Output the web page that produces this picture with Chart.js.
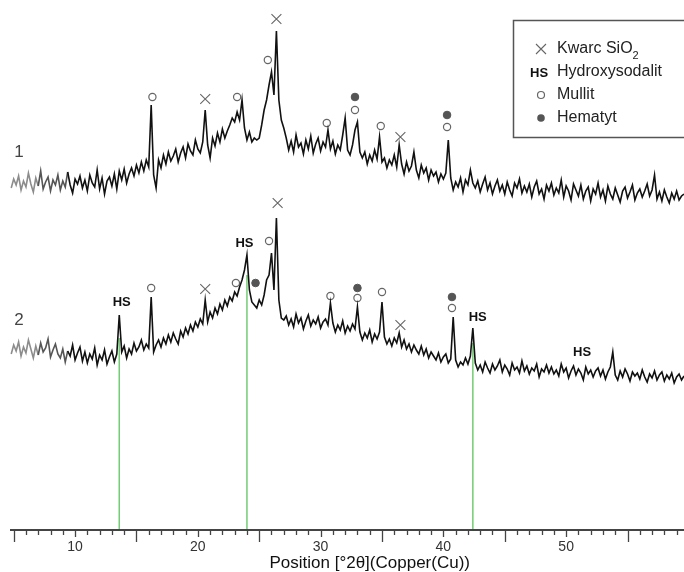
<!DOCTYPE html>
<html><head><meta charset="utf-8">
<script src="https://cdn.jsdelivr.net/npm/chart.js@4.4.1/dist/chart.umd.min.js"></script>
<style>html,body{margin:0;padding:0;background:#fff}#wrap{width:684px;height:572px;position:relative}</style>
</head><body><div id="wrap"><canvas id="c" width="684" height="572"></canvas></div>
<script>
// 2θ scan positions (degrees)
const twoTheta = [
4.8,5,5.2,5.4,5.6,5.8,6,6.2,6.4,6.6,
6.8,7,7.2,7.4,7.6,7.8,8,8.2,8.4,8.6,
8.8,9,9.2,9.4,9.6,9.8,10,10.2,10.4,10.6,
10.8,11,11.2,11.4,11.6,11.8,12,12.2,12.4,12.6,
12.8,13,13.2,13.4,13.6,13.8,14,14.2,14.4,14.6,
14.8,15,15.2,15.4,15.6,15.8,16,16.2,16.4,16.6,
16.8,17,17.2,17.4,17.6,17.8,18,18.2,18.4,18.6,
18.8,19,19.2,19.4,19.6,19.8,20,20.2,20.4,20.6,
20.8,21,21.2,21.4,21.6,21.8,22,22.2,22.4,22.6,
22.8,23,23.2,23.4,23.6,23.8,24,24.2,24.4,24.6,
24.8,25,25.2,25.4,25.6,25.8,26,26.2,26.4,26.6,
26.8,27,27.2,27.4,27.6,27.8,28,28.2,28.4,28.6,
28.8,29,29.2,29.4,29.6,29.8,30,30.2,30.4,30.6,
30.8,31,31.2,31.4,31.6,31.8,32,32.2,32.4,32.6,
32.8,33,33.2,33.4,33.6,33.8,34,34.2,34.4,34.6,
34.8,35,35.2,35.4,35.6,35.8,36,36.2,36.4,36.6,
36.8,37,37.2,37.4,37.6,37.8,38,38.2,38.4,38.6,
38.8,39,39.2,39.4,39.6,39.8,40,40.2,40.4,40.6,
40.8,41,41.2,41.4,41.6,41.8,42,42.2,42.4,42.6,
42.8,43,43.2,43.4,43.6,43.8,44,44.2,44.4,44.6,
44.8,45,45.2,45.4,45.6,45.8,46,46.2,46.4,46.6,
46.8,47,47.2,47.4,47.6,47.8,48,48.2,48.4,48.6,
48.8,49,49.2,49.4,49.6,49.8,50,50.2,50.4,50.6,
50.8,51,51.2,51.4,51.6,51.8,52,52.2,52.4,52.6,
52.8,53,53.2,53.4,53.6,53.8,54,54.2,54.4,54.6,
54.8,55,55.2,55.4,55.6,55.8,56,56.2,56.4,56.6,
56.8,57,57.2,57.4,57.6,57.8,58,58.2,58.4,58.6,
58.8,59,59.2,59.4,59.6
];

// Sample 1 intensity (arbitrary units, offset trace)
const pattern1 = [
342,351,345,354,340,349,343,357,346,338,
352,344,359,341,348,353,339,350,345,355,
340,349,343,358,345,337,351,346,354,342,
350,339,355,347,343,360,341,352,336,349,
353,344,356,341,359,350,361,347,356,362,
354,365,357,368,359,370,363,425,355,342,
370,362,375,366,378,369,374,381,368,377,
383,372,386,379,375,390,381,377,388,420,
385,372,392,384,397,388,401,392,399,405,
412,408,418,410,430,402,390,398,388,392,
390,392,405,420,430,445,458,435,499,430,
410,402,392,380,389,378,395,383,387,376,
390,381,394,377,386,392,379,388,383,400,
381,389,376,385,380,395,412,380,375,385,
400,408,378,372,378,366,375,369,380,371,
393,368,372,362,370,365,375,363,385,366,
356,368,359,364,378,360,352,365,357,362,
350,360,354,358,348,356,351,357,390,352,
340,348,343,352,338,350,345,360,347,342,
349,338,346,353,340,347,336,344,350,339,
345,336,348,340,334,347,342,351,337,344,
338,346,333,343,349,336,341,331,345,339,
347,335,342,337,350,333,344,339,330,346,
340,334,345,331,339,343,329,341,336,347,
333,340,329,344,336,331,342,335,328,339,
343,332,338,345,330,337,341,333,339,346,
334,340,355,331,338,329,340,333,327,337,
331,339,330,334,336
];

// Sample 2 intensity (arbitrary units, offset trace)
const pattern2 = [
176,185,179,188,174,183,177,190,181,172,
184,175,187,178,182,191,173,180,186,176,
172,181,168,179,174,185,170,177,183,169,
178,167,176,171,182,165,175,170,180,166,
173,179,168,176,215,178,184,172,181,176,
187,179,183,190,180,186,182,233,178,185,
190,183,192,186,195,188,197,191,186,199,
193,202,196,205,199,208,203,211,206,230,
208,218,212,222,216,226,220,230,224,233,
229,238,234,243,250,260,275,240,228,225,
222,230,225,235,250,255,277,240,312,230,
212,210,214,205,211,203,216,207,212,201,
209,215,204,210,206,213,202,208,211,205,
227,207,198,205,200,209,197,204,199,206,
201,223,198,190,197,192,200,188,196,191,
198,228,193,186,191,184,192,187,197,183,
190,181,186,178,185,180,176,184,175,181,
172,178,174,170,177,168,173,176,167,171,
213,170,163,168,165,172,166,174,202,167,
160,165,158,168,162,157,166,160,164,170,
158,165,161,155,167,160,163,157,169,159,
164,156,162,159,166,153,161,158,165,157,
163,156,160,154,166,158,162,152,159,164,
155,161,157,150,163,156,160,153,159,162,
154,160,151,158,163,178,155,150,159,153,
161,156,149,158,154,157,151,160,153,148,
156,152,159,150,155,158,149,155,151,157,
147,153,156,150,154
];

// Hydroxysodalite reference lines (2θ) and their heights
const hsLinePos = [13.6, 24.0, 42.4];
const hsLineTop = [192, 255, 187];

// Phase markers: [2θ, height]
const quartzMarks = [[20.6,431],[26.4,511],[36.5,393],[20.6,241],[26.5,327],[36.5,205]];
const mullitMarks = [[16.3,433],[23.2,433],[25.7,470],[30.5,407],[32.8,420],[34.9,404],[40.3,403],
                     [16.2,242],[23.1,247],[25.8,289],[30.8,234],[33.0,232],[35.0,238],[40.7,222]];
const hematytMarks = [[32.8,433],[40.3,415],[24.7,247],[33.0,242],[40.7,233]];
const hsMarks = [[13.8,228],[23.8,287],[42.8,213],[51.3,178]];

const xTickLabels = [10, 20, 30, 40, 50];
const axisTitle = 'Position [°2θ](Copper(Cu))';
const sampleLabels = [['1', 378], ['2', 210]];
const FONT = '"Liberation Sans", Arial, Helvetica, sans-serif';

const toPts = (xs, ys) => xs.map((x, i) => ({x, y: ys[i]}));
const markPts = arr => arr.map(p => ({x: p[0], y: p[1]}));

const traceSeg = {borderColor: c => c.p1.parsed.x < 7.2 ? '#8c8c8c' : (c.p1.parsed.x < 9.5 ? '#555' : '#111')};

const datasets = [
  {label:'1', data: toPts(twoTheta, pattern1), borderColor:'#111', borderWidth:1.6, pointRadius:0, tension:0, segment: traceSeg},
  {label:'2', data: toPts(twoTheta, pattern2), borderColor:'#111', borderWidth:1.6, pointRadius:0, tension:0, segment: traceSeg},
];
hsLinePos.forEach((x, i) => datasets.push({
  label:'HS line', data:[{x, y:0},{x, y:hsLineTop[i]}], borderColor:'#72cc72', borderWidth:1.5, pointRadius:0
}));
datasets.push({type:'scatter', label:'Kwarc', data: markPts(quartzMarks), pointStyle:'crossRot', pointRadius:7, borderColor:'#666', borderWidth:1.1, showLine:false});
datasets.push({type:'scatter', label:'Mullit', data: markPts(mullitMarks), pointStyle:'circle', pointRadius:3.6, backgroundColor:'#fff', borderColor:'#666', borderWidth:1.2, showLine:false});
datasets.push({type:'scatter', label:'Hematyt', data: markPts(hematytMarks), pointStyle:'circle', pointRadius:3.8, backgroundColor:'#555', borderColor:'#555', borderWidth:1, showLine:false});

const decor = {
  id:'decor',
  afterDraw(chart){
    const ctx = chart.ctx, xs = chart.scales.x, ys = chart.scales.y, ca = chart.chartArea, b = ca.bottom;
    ctx.save();
    // axis line
    ctx.strokeStyle = '#444'; ctx.lineWidth = 2.2;
    ctx.beginPath(); ctx.moveTo(ca.left, b); ctx.lineTo(ca.right, b); ctx.stroke();
    // tick marks
    ctx.lineWidth = 1.3;
    for (let v = Math.ceil(xs.min); v <= Math.floor(xs.max); v++) {
      const px = Math.round(xs.getPixelForValue(v)) + 0.5;
      const len = v % 10 === 0 ? 7 : (v % 5 === 0 ? 12 : 5);
      ctx.beginPath(); ctx.moveTo(px, b); ctx.lineTo(px, b + len); ctx.stroke();
    }
    // tick labels
    ctx.fillStyle = '#333'; ctx.font = '14px ' + FONT; ctx.textAlign = 'center'; ctx.textBaseline = 'middle';
    xTickLabels.forEach(v => ctx.fillText(String(v), xs.getPixelForValue(v), b + 17));
    // axis title
    ctx.fillStyle = '#111'; ctx.font = '17px ' + FONT; ctx.textBaseline = 'alphabetic';
    ctx.fillText(axisTitle, xs.getPixelForValue(34.0), b + 38);
    // HS labels
    ctx.fillStyle = '#111'; ctx.font = 'bold 13px ' + FONT; ctx.textBaseline = 'middle';
    hsMarks.forEach(p => ctx.fillText('HS', xs.getPixelForValue(p[0]), ys.getPixelForValue(p[1])));
    // sample numbers
    ctx.fillStyle = '#444'; ctx.font = '17px ' + FONT;
    sampleLabels.forEach(s => ctx.fillText(s[0], 19, ys.getPixelForValue(s[1])));
    // legend box
    ctx.strokeStyle = '#555'; ctx.lineWidth = 1.5;
    ctx.strokeRect(513.5, 20.5, 220, 117);
    ctx.textAlign = 'left'; ctx.fillStyle = '#222'; ctx.font = '16px ' + FONT;
    ctx.strokeStyle = '#666'; ctx.lineWidth = 1.1;
    ctx.beginPath(); ctx.moveTo(536, 44); ctx.lineTo(546, 54); ctx.moveTo(546, 44); ctx.lineTo(536, 54); ctx.stroke();
    ctx.fillText('Kwarc SiO', 557, 49);
    const w = ctx.measureText('Kwarc SiO').width;
    ctx.font = '11px ' + FONT; ctx.fillText('2', 557 + w, 56);
    ctx.font = 'bold 13px ' + FONT; ctx.fillStyle = '#111'; ctx.fillText('HS', 530, 73);
    ctx.font = '16px ' + FONT; ctx.fillStyle = '#222'; ctx.fillText('Hydroxysodalit', 557, 72);
    ctx.beginPath(); ctx.arc(541, 95, 3.5, 0, Math.PI*2); ctx.fillStyle = '#fff'; ctx.fill(); ctx.strokeStyle = '#666'; ctx.lineWidth = 1.2; ctx.stroke();
    ctx.fillStyle = '#222'; ctx.fillText('Mullit', 557, 95);
    ctx.beginPath(); ctx.arc(541, 118, 3.8, 0, Math.PI*2); ctx.fillStyle = '#555'; ctx.fill();
    ctx.fillStyle = '#222'; ctx.fillText('Hematyt', 557, 118);
    ctx.restore();
  }
};

new Chart(document.getElementById('c'), {
  type:'line',
  data:{datasets},
  options:{
    responsive:false, animation:false, devicePixelRatio:1,
    layout:{autoPadding:false, padding:{left:10, right:0, top:0, bottom:42}},
    plugins:{legend:{display:false}, tooltip:{enabled:false}},
    scales:{
      x:{type:'linear', min:4.7, max:59.6,
         grid:{display:false, drawTicks:false},
         border:{display:false},
         ticks:{display:false}
      },
      y:{display:false, min:0, max:530}
    }
  },
  plugins:[decor]
});
</script>
</body></html>
